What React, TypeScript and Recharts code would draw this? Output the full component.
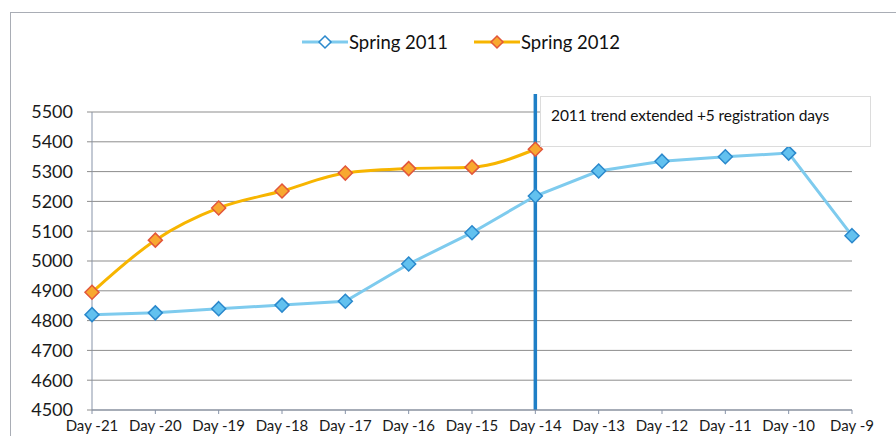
import React from "react";
import {
  LineChart,
  Line,
  XAxis,
  YAxis,
  CartesianGrid,
  ReferenceLine,
} from "recharts";

// categories
const days = [
  "Day -21", "Day -20", "Day -19", "Day -18", "Day -17", "Day -16", "Day -15",
  "Day -14", "Day -13", "Day -12", "Day -11", "Day -10", "Day -9",
];

// series values
const spring2011 = [4820, 4826, 4840, 4852, 4865, 4990, 5095, 5218, 5302, 5335, 5350, 5362, 5085];
const spring2012: (number | null)[] = [4895, 5070, 5178, 5235, 5295, 5310, 5315, 5375, null, null, null, null, null];

const yTicks = [4500, 4600, 4700, 4800, 4900, 5000, 5100, 5200, 5300, 5400, 5500];

const data = days.map((d, i) => ({
  day: d,
  s2011: spring2011[i],
  s2012: spring2012[i],
}));

const FONT = "Lato, 'Open Sans', sans-serif";
const BLUE_LINE = "#7ecbee";
const BLUE_FILL = "#62c1ef";
const BLUE_EDGE = "#2a88cc";
const GOLD_LINE = "#f7b500";
const GOLD_FILL = "#f8a830";
const GOLD_EDGE = "#e2563a";

const Diamond = (fill: string, edge: string) => (props: any) => {
  const { cx, cy, index } = props;
  if (cx == null || cy == null || props.value == null) return <g key={index} />;
  const r = 7;
  return (
    <polygon
      key={index}
      points={`${cx},${cy - r} ${cx + r},${cy} ${cx},${cy + r} ${cx - r},${cy}`}
      fill={fill}
      stroke={edge}
      strokeWidth={1.5}
    />
  );
};

const legendItems = [
  { label: "Spring 2011", line: BLUE_LINE, fill: "#ffffff", edge: BLUE_EDGE },
  { label: "Spring 2012", line: GOLD_LINE, fill: GOLD_FILL, edge: GOLD_EDGE },
];

const ChartLegend = () => (
  <div
    style={{
      position: "absolute",
      left: 0,
      top: 31,
      width: 922,
      display: "flex",
      justifyContent: "center",
      gap: 26,
      fontFamily: FONT,
      fontSize: 18.5,
      color: "#111",
    }}
  >
    {legendItems.map((it) => (
      <div key={it.label} style={{ display: "flex", alignItems: "center" }}>
        <svg width={46} height={16}>
          <line x1={0} y1={8} x2={46} y2={8} stroke={it.line} strokeWidth={3} />
          <polygon points="23,2 29,8 23,14 17,8" fill={it.fill} stroke={it.edge} strokeWidth={1.5} />
        </svg>
        <span style={{ marginLeft: 1 }}>{it.label}</span>
      </div>
    ))}
  </div>
);

export default function App() {
  return (
    <div style={{ position: "absolute", left: 0, top: 0, width: 896, height: 436, background: "#fff", overflow: "hidden" }}>
      <div
        style={{
          position: "absolute",
          left: 10,
          top: 12,
          width: 900,
          height: 440,
          border: "1.5px solid #a9adb5",
          boxSizing: "border-box",
        }}
      />
      <LineChart
        width={896}
        height={436}
        data={data}
        margin={{ top: 112, right: 44, bottom: 0, left: 0 }}
        style={{ position: "absolute", left: 0, top: 0 }}
      >
        <CartesianGrid vertical={false} stroke="#8d8d8d" strokeWidth={1} />
        <XAxis
          dataKey="day"
          scale="point"
          padding={{ left: 0, right: 0 }}
          height={26}
          interval={0}
          tick={{ fontFamily: FONT, fontSize: 15, fill: "#1a1a1a" }}
          tickMargin={6}
          tickSize={4}
          axisLine={{ stroke: "#8793a8" }}
          tickLine={{ stroke: "#8793a8" }}
        />
        <YAxis
          width={92}
          domain={[4500, 5500]}
          ticks={yTicks}
          interval={0}
          tick={{ fontFamily: FONT, fontSize: 18, fill: "#1a1a1a" }}
          tickSize={5}
          tickMargin={14}
          axisLine={{ stroke: "#8793a8" }}
          tickLine={{ stroke: "#8d8d8d" }}
        />
        <Line
          type="monotone"
          dataKey="s2012"
          stroke={GOLD_LINE}
          strokeWidth={3}
          dot={Diamond(GOLD_FILL, GOLD_EDGE)}
          connectNulls={false}
          isAnimationActive={false}
        />
        <Line
          type="linear"
          dataKey="s2011"
          stroke={BLUE_LINE}
          strokeWidth={3}
          dot={Diamond(BLUE_FILL, BLUE_EDGE)}
          isAnimationActive={false}
        />
        <ReferenceLine
          segment={[{ x: "Day -14", y: 5560 }, { x: "Day -14", y: 4500 }]}
          ifOverflow="visible"
          stroke="#1f7fc6"
          strokeWidth={3.5}
        />
      </LineChart>
      <ChartLegend />
      <div
        style={{
          position: "absolute",
          left: 540,
          top: 96,
          width: 331,
          height: 51,
          background: "#fff",
          border: "1px solid #dcdcdc",
          boxSizing: "border-box",
          fontFamily: FONT,
          fontSize: 15.5,
          color: "#111",
          padding: "9px 0 0 10px",
          letterSpacing: -0.1,
          whiteSpace: "nowrap",
        }}
      >
        2011 trend extended +5 registration days
      </div>
    </div>
  );
}
